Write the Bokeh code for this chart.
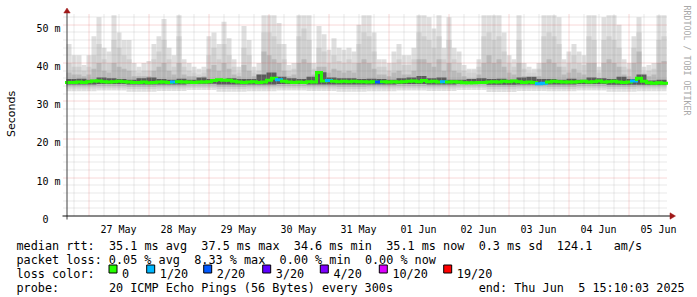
import math
import re
from bokeh.plotting import figure
from bokeh.models import Range1d
from bokeh.core.properties import value
from bokeh.embed import file_html
from bokeh.resources import INLINE

# ---------------- data ----------------
# time axis: 10 days, 26 May 15:10 -> 05 Jun 15:10, values in 2-hour bins
start_to_first_midnight_h = 8 + 50 / 60.0
span_hours = 240
day_labels = ["27 May", "28 May", "29 May", "30 May", "31 May",
              "01 Jun", "02 Jun", "03 Jun", "04 Jun", "05 Jun"]
y_tick_values = [0, 10, 20, 30, 40, 50]
y_tick_labels = ["0", "10 m", "20 m", "30 m", "40 m", "50 m"]

# smoke upper bounds (ms), 2h bins
smoke_max = [45, 42, 42, 39.5, 42, 47, 52, 44, 43, 52.5,
             48, 46, 46, 40, 39, 40, 40.5, 45, 47, 51.5,
             44, 42, 52.5, 41, 40, 39, 38.5, 39, 47, 48,
             45, 50.8, 46.5, 41, 39, 49.7, 46, 39, 40, 52.5,
             52.5, 52.5, 50.5, 45, 39.5, 40, 52.5, 52.5, 52.5, 40,
             49.7, 47.5, 43.5, 46.5, 44, 43.5, 44, 43, 50, 52.5,
             52.5, 48, 41, 41, 40, 43, 45, 42, 42, 44,
             52.5, 52.5, 52, 49, 52.5, 44, 52, 44, 43, 39.5,
             38.5, 38.5, 41, 52.5, 52.5, 52.5, 52.5, 48, 42, 41,
             52.5, 40, 39, 38.5, 40, 52.5, 52.5, 52.5, 52, 41,
             43, 45, 43, 42, 52.5, 52.5, 39, 52, 52.5, 52.5,
             50, 41, 40, 47, 52, 39, 39.5, 40, 52.5, 52.5]
smoke_hi = [40, 39, 39, 38, 39, 42, 45, 41, 40, 46,
            44, 42, 41, 38, 37.5, 38, 38, 41, 43, 46,
            41, 39, 47, 39, 38, 37.5, 37, 37.5, 42, 44,
            41, 45, 42, 39, 37.5, 44, 42, 37.5, 38, 48,
            48, 47, 45, 41, 38, 38.5, 47, 49, 46, 38.5,
            44, 43, 40, 42, 40.5, 40, 41, 40, 45, 48,
            47, 43, 39, 39, 38, 40, 41, 39.5, 39.5, 41,
            48, 47, 46, 44, 47, 41, 46, 41, 40, 38,
            37.5, 37.5, 39, 47, 48, 46, 47, 43, 40, 39,
            46, 38.5, 37.5, 37.5, 38.5, 47, 48, 47, 45, 39,
            40, 42, 40, 39.5, 47, 46, 37.5, 46, 47, 46,
            44, 39, 38.5, 44, 48, 37.5, 38, 38.5, 46, 47]
smoke_mid = [37.5, 37, 37, 36.5, 37, 38.5, 40, 38, 37.5, 40,
             39, 38.5, 38, 36.5, 36.5, 36.5, 36.5, 38, 39, 40,
             38, 37, 40, 37, 36.5, 36.5, 36, 36.5, 38.5, 39.5,
             38, 40, 38.5, 37, 36.5, 39.5, 38, 36.5, 37, 43,
             42, 41, 40, 38, 36.5, 37, 40, 41, 40, 37,
             39, 39, 37.5, 38.5, 38, 37.5, 38, 37.5, 40, 41,
             40, 38.5, 37, 37, 36.5, 37.5, 38, 37, 37, 38,
             41, 41, 40, 39, 41, 38, 40, 38, 37.5, 36.5,
             36, 36, 37, 40, 42, 40, 41, 39, 37.5, 37,
             40, 36.5, 36, 36, 36.5, 40, 41, 40, 39, 37,
             37.5, 38.5, 37.5, 37, 40, 40, 36, 40, 41, 40,
             39, 37, 36.5, 40, 43, 36.5, 36.5, 37, 40, 40.5]
# inner dark smoke upper bound (ms), 4h bins
smoke_core = [35.8, 35.9, 35.6, 36.2, 36.0, 35.8, 35.6, 36.0, 36.2, 35.8,
              35.6, 35.9, 35.6, 36.2, 35.8, 35.6, 36.0, 35.8, 35.8, 37.0,
              37.5, 36.4, 36.0, 35.8, 36.4, 37.6, 36.2, 36.0, 36.0, 35.8,
              35.9, 35.8, 35.6, 36.0, 36.2, 36.6, 36.0, 36.2, 35.6, 35.6,
              35.8, 36.0, 35.8, 35.9, 35.6, 36.2, 36.4, 35.8, 35.8, 35.6,
              35.9, 35.6, 36.2, 36.0, 35.8, 36.4, 35.8, 37.0, 35.4, 35.6]
# smoke lower bounds (ms), 12h bins
low_min = [32.6, 32.8, 32.5, 32.7, 32.9, 32.5, 32.6, 32.8, 32.7, 32.5,
           32.6, 32.8, 32.7, 32.9, 32.4, 32.7, 32.6, 32.8, 32.5, 32.6]
low_lo = [33.3, 33.4, 33.2, 33.3, 33.5, 33.2, 33.3, 33.4, 33.3, 33.2,
          33.3, 33.4, 33.3, 33.5, 33.1, 33.3, 33.2, 33.4, 33.2, 33.3]
low_mid = [33.9, 34.0, 33.8, 33.9, 34.1, 33.8, 33.9, 34.0, 33.9, 33.8,
           33.9, 34.0, 33.9, 34.1, 33.8, 33.9, 33.8, 34.0, 33.8, 33.9]
low_core = [34.4, 34.5, 34.4, 34.4, 34.6, 34.4, 34.4, 34.5, 34.4, 34.4,
            34.4, 34.5, 34.4, 34.6, 34.3, 34.4, 34.4, 34.5, 34.3, 34.3]
# median rtt (ms), 2h bins
median_ms = [34.9, 34.9, 35.0, 34.9, 35.1, 35.3, 35.3, 35.1, 35.0, 35.1,
             35.2, 35.1, 35.0, 34.9, 34.9, 35.0, 34.8, 34.9, 35.0, 35.0,
             34.9, 35.0, 35.1, 35.0, 35.0, 34.9, 35.0, 35.0, 35.1, 35.4,
             35.6, 35.5, 35.5, 35.2, 35.0, 34.9, 35.0, 35.1, 34.9, 35.0,
             35.5, 36.0, 35.6, 35.2, 35.0, 34.9, 35.0, 34.9, 35.1, 35.0,
             37.5, 35.3, 35.4, 35.2, 35.1, 35.2, 35.1, 35.2, 35.1, 35.1,
             35.0, 35.1, 35.0, 35.1, 35.0, 35.1, 35.0, 35.1, 35.2, 35.3,
             35.1, 35.4, 35.1, 35.2, 35.0, 35.1, 35.0, 35.1, 35.0, 34.8,
             34.8, 34.8, 34.9, 34.9, 35.0, 35.1, 35.0, 35.2, 35.1, 35.3,
             35.1, 34.9, 35.0, 34.9, 34.6, 34.7, 35.0, 35.2, 35.1, 35.0,
             35.0, 35.0, 35.1, 35.2, 35.0, 35.1, 35.3, 35.0, 35.1, 35.2,
             35.0, 34.9, 35.0, 35.3, 36.0, 35.2, 34.8, 34.7, 34.8, 34.7]
# lost pings (of 20) per bin
loss = [0] * 120
for idx, lost in [(21, 1), (42, 1), (52, 1), (62, 2), (75, 1), (94, 1), (95, 1), (113, 1)]:
    loss[idx] = lost

loss_levels = [0, 1, 2, 3, 4, 10, 19]
loss_labels = ["0", "1/20", "2/20", "3/20", "4/20", "10/20", "19/20"]
loss_colors = ["#26ff00", "#00b8ff", "#0059ff", "#5e00ff", "#7e00ff", "#dd00ff", "#ff0000"]

stat_lines = [
    "median rtt:  35.1 ms avg  37.5 ms max  34.6 ms min  35.1 ms now  0.3 ms sd  124.1   am/s",
    "packet loss: 0.05 % avg  8.33 % max  0.00 % min  0.00 % now",
    "loss color:",
    "probe:       20 ICMP Echo Pings (56 Bytes) every 300s            end: Thu Jun  5 15:10:03 2025",
]

# ---------------- layout (pixels) ----------------
W, H = 697, 297
PX_LEFT, PX_PER_H = 66.0, 2.5
PY_ZERO, PX_PER_MS = 215.3, 3.82
Y_TOP = 52.7

def X(px):
    return (px - PX_LEFT) / PX_PER_H

def Y(py):
    return (PY_ZERO - py) / PX_PER_MS

def snap_x(h):
    return X(math.floor(PX_LEFT + h * PX_PER_H) + 0.5)

def snap_y(v):
    return Y(math.floor(PY_ZERO - v * PX_PER_MS) + 0.5)

p = figure(width=W, height=H, output_backend="svg", toolbar_location=None,
           x_axis_type=None, y_axis_type=None, min_border=0,
           x_range=Range1d(X(0), X(W)), y_range=Range1d(Y(H), Y(0)))
p.outline_line_color = None
p.background_fill_color = "white"
p.border_fill_color = "white"
p.grid.visible = False

mono = value("DejaVu Sans Mono")
sans = value("DejaVu Sans")

n = len(median_ms)
bh = span_hours / n
left = [i * bh for i in range(n)]
right = [(i + 1) * bh for i in range(n)]

def per_bin(arr):
    k = n // len(arr)
    return [arr[i // k] for i in range(n)]

layers = [
    (per_bin(low_min), smoke_max, "#dfdfdf"),
    (per_bin(low_lo), smoke_hi, "#d0d0d0"),
    (per_bin(low_mid), smoke_mid, "#b9b9b9"),
    (per_bin(low_core), per_bin(smoke_core), "#5a5a5a"),
]
for bot, top, col in layers:
    p.quad(left=left, right=right, bottom=bot, top=top,
           fill_color=col, line_color=None)

# grid
minor_v, major_v = [], []
h = start_to_first_midnight_h - 6
while h < span_hours:
    if h > 0:
        k = (h - start_to_first_midnight_h) / 24
        (major_v if abs(k - round(k)) < 1e-6 else minor_v).append(snap_x(h))
    h += 6
minor_h = [snap_y(v) for v in range(2, 53, 2) if v % 10 != 0]
major_h = [snap_y(v) for v in y_tick_values if v > 0]

gx0, gx1 = X(63), X(667)
gy0, gy1 = Y(215), Y(13)
p.segment(x0=minor_v, x1=minor_v, y0=[gy0] * len(minor_v), y1=[gy1] * len(minor_v),
          line_color="#8f8f8f", line_alpha=0.38, line_width=1, line_dash="1 1")
p.segment(x0=[gx0] * len(minor_h), x1=[gx1] * len(minor_h), y0=minor_h, y1=minor_h,
          line_color="#8f8f8f", line_alpha=0.38, line_width=1, line_dash="1 1")
p.segment(x0=major_v, x1=major_v, y0=[gy0] * len(major_v), y1=[gy1] * len(major_v),
          line_color="#de5050", line_alpha=0.45, line_width=1, line_dash="1 1")
p.segment(x0=[gx0] * len(major_h), x1=[gx1] * len(major_h), y0=major_h, y1=major_h,
          line_color="#de5050", line_alpha=0.45, line_width=1, line_dash="1 1")

# median line coloured by loss
def loss_color(l):
    c = loss_colors[0]
    for lev, col in zip(loss_levels, loss_colors):
        if l >= lev:
            c = col
    return c

cols = [loss_color(l) for l in loss]
p.segment(x0=left, x1=right, y0=median_ms, y1=median_ms, line_color=cols,
          line_width=3, line_cap="square")
p.segment(x0=right[:-1], x1=right[:-1], y0=median_ms[:-1], y1=median_ms[1:],
          line_color=cols[1:], line_width=3, line_cap="butt")

# axes
p.segment(x0=[X(66.5)], x1=[X(66.5)], y0=[Y(219)], y1=[Y(11)], line_color="#404040", line_width=1)
p.segment(x0=[X(62)], x1=[X(670)], y0=[Y(215.5)], y1=[Y(215.5)], line_color="#101010", line_width=1)
p.patch(x=[X(66.5), X(63.3), X(69.7)], y=[Y(7.5), Y(12.5), Y(12.5)],
        fill_color="#a01818", line_color="#a01818", line_width=0.5)
p.patch(x=[X(675), X(669.5), X(669.5)], y=[Y(215.5), Y(212.3), Y(218.7)],
        fill_color="#a01818", line_color="#a01818", line_width=0.5)

# tick labels
ylab_x = [X(60) if lab != "0" else X(48) for lab in y_tick_labels]
ylab_y = [v - 3.4 / PX_PER_MS for v in y_tick_values]
p.text(x=ylab_x, y=ylab_y, text=y_tick_labels, text_font=mono, text_font_size="10px",
       text_align="right", text_baseline="alphabetic", text_color="black")
noon = [start_to_first_midnight_h + 12 + 24 * k for k in range(len(day_labels))]
p.text(x=noon, y=[Y(228.5)] * len(noon), text=day_labels, text_font=mono,
       text_font_size="10px", text_align="center", text_baseline="alphabetic",
       text_color="black")

# axis title and watermark
p.text(x=[X(10.5)], y=[Y(113.5)], text=["Seconds"], angle=math.pi / 2,
       text_font=sans, text_font_size="11px", text_align="center",
       text_baseline="middle", text_color="black")
p.text(x=[X(686.5)], y=[Y(60)], text=["RRDTOOL / TOBI OETIKER"], angle=-math.pi / 2,
       text_font=mono, text_font_size="8.3px", text_align="center",
       text_baseline="middle", text_color="#a8a8a8")

# statistics lines (split on runs of spaces, placed on a monospace grid)
CW = 7.11
TX0 = 16
baselines = [245, 259, 273, 287]
tx, ty, tt = [], [], []
for line, base in zip(stat_lines, baselines):
    for m in re.finditer(r"\S+(?: \S+)*", line):
        tx.append(X(TX0 + CW * m.start()))
        ty.append(Y(base))
        tt.append(m.group(0))
p.text(x=tx, y=ty, text=tt, text_font=mono, text_font_size="11.8px",
       text_align="left", text_baseline="alphabetic", text_color="black")

# loss colour legend
sq_x = [108, 145.7, 202.7, 261.7, 319.3, 378.3, 442.7]
sq_size = 8
p.quad(left=[X(sx + 0.5) for sx in sq_x], right=[X(sx + 0.5 + sq_size) for sx in sq_x],
       top=[Y(264.5)] * len(sq_x), bottom=[Y(264.5 + sq_size)] * len(sq_x),
       fill_color=loss_colors, line_color="black", line_width=1)
p.text(x=[X(sx + 13.6) for sx in sq_x], y=[Y(273)] * len(sq_x), text=loss_labels,
       text_font=mono, text_font_size="11.8px", text_align="left",
       text_baseline="alphabetic", text_color="black")

open("out.html", "w").write(file_html(p, INLINE))
